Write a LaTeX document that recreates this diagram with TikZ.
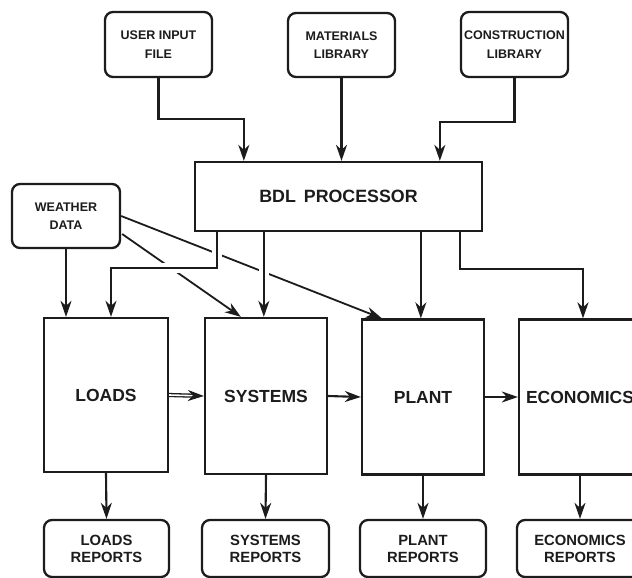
\documentclass[tikz,border=0pt]{standalone}
\usepackage{fontspec}
\setmainfont{Liberation Sans}
\usetikzlibrary{arrows.meta,calc}
\pgfdeclarelayer{paper}
\pgfdeclarelayer{weatherlines}
\pgfdeclarelayer{gaps}
\pgfsetlayers{paper,weatherlines,gaps,main}
\definecolor{ink}{HTML}{1C1C1C}
\tikzset{
  box/.style={draw=ink, line width=2.3pt, align=center, text=ink, inner sep=0pt},
  rbox/.style={box, rounded corners=8pt},
  smalltxt/.style={font={\fontsize{12.5}{18.5}\selectfont\bfseries}},
  reptxt/.style={font={\fontsize{14.8}{17}\selectfont\bfseries}},
  bigtxt/.style={font={\fontsize{17.5}{21}\selectfont\bfseries}},
  tip/.tip={Stealth[length=16pt,width=11pt,inset=5pt]},
  conn/.style={draw=ink, line width=2.1pt, -tip},
  wline/.style={draw=ink, line width=1.8pt, -tip},
  gapline/.style={draw=white, line width=10pt},
}
\begin{document}
\begin{tikzpicture}[x=1pt,y=-1pt]
\useasboundingbox (0,0) rectangle (632,578);
\begin{pgfonlayer}{paper}
  \fill[white] (0,0) rectangle (632,578);
\end{pgfonlayer}

% input files
\node[rbox, smalltxt, minimum width=107pt, minimum height=65pt] (user) at (158.5,44.5) {USER INPUT\\FILE};
\node[rbox, smalltxt, minimum width=107pt, minimum height=64pt] (mat) at (341.5,45) {MATERIALS\\LIBRARY};
\node[rbox, smalltxt, minimum width=107pt, minimum height=65pt] (cons) at (514.5,44.5) {CONSTRUCTION\\LIBRARY};

% processor and weather file
\node[box, font={\fontsize{17.8}{20}\selectfont\bfseries}, minimum width=287pt, minimum height=69pt] (bdl) at (338.5,196.5) {BDL\hspace{0.45em}PROCESSOR};
\node[rbox, smalltxt, minimum width=108pt, minimum height=64pt] (weather) at (66,216) {WEATHER\\DATA};

% simulation programs
\node[box, bigtxt, minimum width=124pt, minimum height=154pt] (loads) at (106,395) {LOADS};
\node[box, bigtxt, minimum width=122pt, minimum height=156pt] (systems) at (266,396) {SYSTEMS};
\node[box, bigtxt, minimum width=122pt, minimum height=155pt] (plant) at (423,397) {PLANT};
\node[box, bigtxt, minimum width=122pt, minimum height=155pt] (econ) at (580,397) {ECONOMICS};

% reports
\node[rbox, reptxt, minimum width=125pt, minimum height=57pt] (loadsr) at (106.5,548.5) {LOADS\\REPORTS};
\node[rbox, reptxt, minimum width=127pt, minimum height=57pt] (sysr) at (265.5,548.5) {SYSTEMS\\REPORTS};
\node[rbox, reptxt, minimum width=126pt, minimum height=57pt] (plantr) at (423,548.5) {PLANT\\REPORTS};
\node[rbox, reptxt, minimum width=126pt, minimum height=57pt] (econr) at (580,548.5) {ECONOMICS\\REPORTS};

% connection points
\coordinate (t1) at ($(bdl.north west)+(50,0)$);
\coordinate (t3) at ($(bdl.north west)+(246,0)$);
\coordinate (b1) at ($(bdl.south west)+(23,0)$);
\coordinate (b2) at ($(bdl.south west)+(70,0)$);
\coordinate (b3) at ($(bdl.south west)+(227,0)$);
\coordinate (b4) at ($(bdl.south west)+(266,0)$);
\coordinate (loadsin) at ($(loads.north)+(5,0)$);
\coordinate (econin) at ($(econ.north)+(3,0)$);
\coordinate (w2) at ($(weather.east)+(1,18)$);
\coordinate (w1) at ($(plant.north west)+(21,0)$);
\coordinate (w3) at ($(systems.north west)+(37,0)$);

% inputs to the processor
\draw[conn] (user.south) -- ++(0,41) -| (t1);
\draw[conn] (mat.south) -- (mat.south |- bdl.north);
\draw[conn] (cons.south) -- ++(0,44) -| (t3);

% processor to the programs
\draw[conn] (b1) -- ++(0,36) -| (loadsin);
\draw[conn] (b2) -- (b2 |- systems.north);
\draw[conn] (b3) -- (b3 |- plant.north);
\draw[conn] (b4) -- ++(0,37) -| (econin);

% weather data
\draw[conn] (weather.south) -- (weather.south |- loads.north);
\begin{pgfonlayer}{weatherlines}
  \draw[wline] (weather.east) -- (w1);
  \draw[wline] (w2) -- (w3);
\end{pgfonlayer}
\begin{pgfonlayer}{gaps}
  \draw[gapline] ($(b1)+(0,4)$) -- ++(0,32) -- ($(loadsin |- b1)+(0,36)$);
  \draw[gapline] ($(b2)+(0,4)$) -- ($(b2 |- systems.north)+(0,-4)$);
\end{pgfonlayer}

% program chain
\draw[conn, double=white, double distance=1.6pt, line width=1.3pt] (loads.east) -- (systems.west);
\draw[conn] (systems.east) -- (plant.west);
\draw[conn] (plant.east) -- (econ.west);

% reports
\draw[conn] (loads.south) -- (loadsr.north);
\draw[conn] (systems.south) -- (sysr.north);
\draw[conn] (plant.south) -- (plantr.north);
\draw[conn] (econ.south) -- (econr.north);
\end{tikzpicture}
\end{document}
